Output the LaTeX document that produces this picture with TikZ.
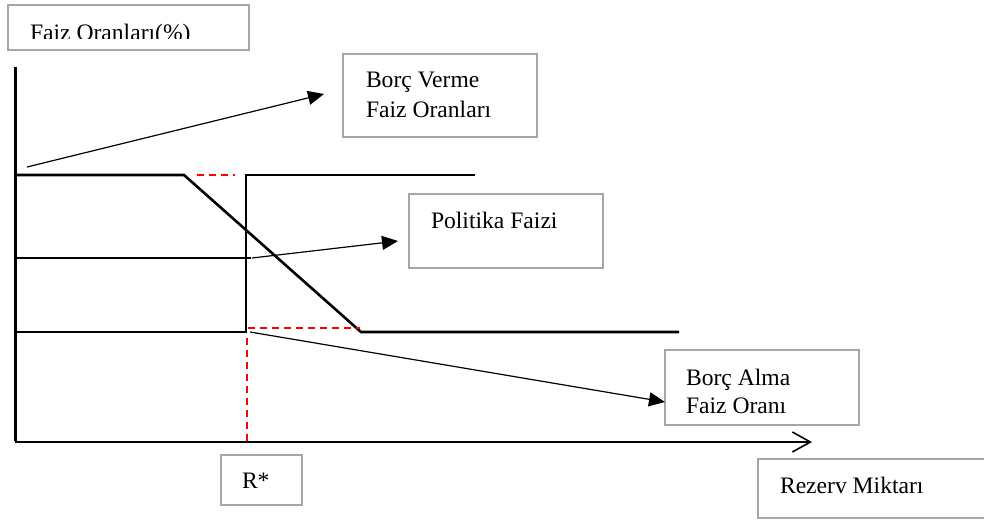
\documentclass[tikz,border=0pt]{standalone}
\usepackage{fontspec}
\setmainfont{Liberation Serif}
\usetikzlibrary{arrows.meta}
\definecolor{boxgray}{HTML}{A6A6A6}
\tikzset{
  box/.style={draw=boxgray, line width=2pt, rectangle, inner sep=0pt, outer sep=0pt, anchor=north west},
  lbl/.style={inner sep=0pt, outer sep=0pt, anchor=base west, font=\fontsize{23.6}{29}\selectfont},
  curve/.style={line width=2.6pt, line join=miter},
  pointer/.style={line width=1.2pt, -{Triangle[length=16pt,width=14pt]}},
  guide/.style={draw=red, line width=1.5pt, dash pattern=on 7pt off 5pt},
}
\begin{document}
\begin{tikzpicture}[x=1pt,y=-1pt]
\useasboundingbox (0,0) rectangle (984,520);
\fill[white] (0,0) rectangle (984,520);

% boxes
\node[box, minimum width=241pt, minimum height=45pt] (ybox) at (8,5) {};
\begin{scope}
  \clip (8,5) rectangle (249,38);
  \node[lbl] (ylab) at (30,40.6) {Faiz Oranları(\%)};
\end{scope}

\node[box, minimum width=194pt, minimum height=83pt] (bv) at (343,54) {};
\node[lbl] (bv1) at (366,87) {Borç Verme};
\node[lbl] (bv2) at (366,117) {Faiz Oranları};

\node[box, minimum width=194pt, minimum height=74pt] (pf) at (409,194) {};
\node[lbl] (pf1) at (431,228) {Politika Faizi};

\node[box, minimum width=194pt, minimum height=75pt] (ba) at (665,350) {};
\node[lbl] (ba1) at (686,385) {Borç Alma};
\node[lbl] (ba2) at (686,413) {Faiz Oranı};

\node[box, minimum width=81pt, minimum height=50pt] (rs) at (221,455) {};
\node[lbl] (rs1) at (242,488) {R*};

\node[box, minimum width=240pt, minimum height=59pt] (rm) at (758,459) {};
\node[lbl] (rm1) at (780,493) {Rezerv Miktarı};

% axes
\coordinate (O) at (15,442);
\coordinate (ytop) at (15,67);
\coordinate (xend) at (812,442);
\draw[line width=3pt] (ytop) -- ([yshift=1.5pt]O);
\draw[line width=2pt, -{Straight Barb[length=18pt,width=20pt,line width=1.6pt]}] (O) -- (xend);

% curves
\coordinate (d0) at (15,175);
\coordinate (d1) at (184,175);
\coordinate (d2) at (361,332);
\coordinate (d3) at (679,332);
\draw[curve] (d0) -- (d1) -- (d2) -- (d3);

\coordinate (s0) at (15,332);
\coordinate (s1) at (246,332);
\coordinate (s2) at (246,175);
\coordinate (s3) at (475,175);
\draw[curve] (s0) -- (s1) -- (s2) -- (s3);

\coordinate (p0) at (15,258);
\coordinate (p1) at (251,258);
\draw[curve] (p0) -- (p1);

% red guides
\coordinate (g1a) at (197,175);
\coordinate (g1b) at (235,175);
\coordinate (g2a) at (248,328);
\coordinate (g2b) at (360,328);
\coordinate (g3a) at (247,338);
\coordinate (g3b) at (247,442);
\draw[guide] (g1a) -- (g1b);
\draw[guide] (g2a) -- (g2b);
\draw[guide] (g3a) -- (g3b);

% pointers
\coordinate (a1s) at (27,167);
\coordinate (a1t) at (324,94);
\coordinate (a2s) at (252,258);
\coordinate (a2t) at (398,241);
\coordinate (a3s) at (250,332);
\coordinate (a3t) at (665,402);
\draw[pointer] (a1s) -- (a1t);
\draw[pointer] (a2s) -- (a2t);
\draw[pointer] (a3s) -- (a3t);
\end{tikzpicture}
\end{document}
